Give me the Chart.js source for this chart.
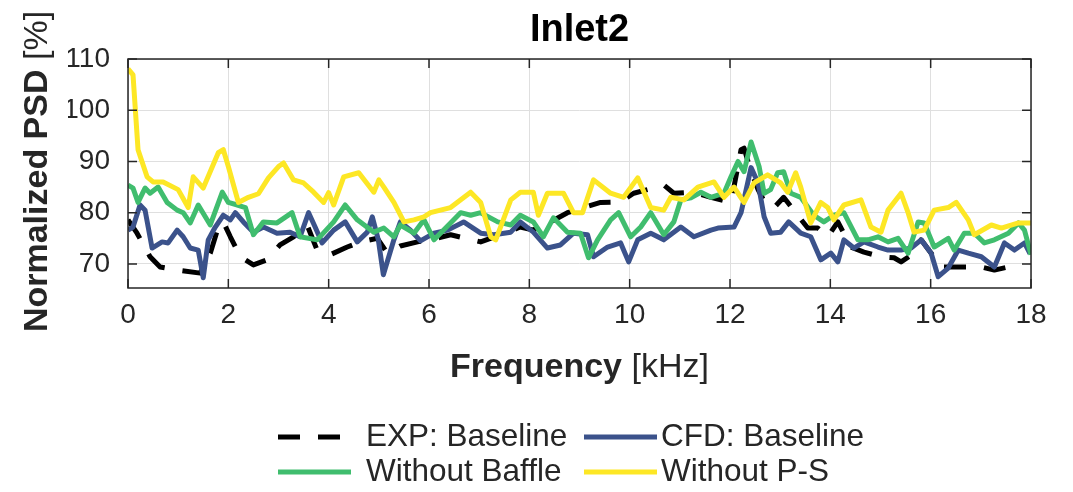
<!DOCTYPE html>
<html>
<head>
<meta charset="utf-8">
<script src="https://cdn.jsdelivr.net/npm/chart.js@4.4.1/dist/chart.umd.min.js"></script>
<style>
  html, body { margin: 0; padding: 0; background: #fff; }
  #psd-chart { display: block; }
</style>
</head>
<body>
<canvas id="psd-chart" width="1073" height="492"></canvas>
<script>
// values (frequency in kHz, normalized PSD in %)
const expFreq = [0, 0.18, 0.44, 0.64, 0.98, 1.44, 1.64, 1.8, 1.9, 2.04, 2.24, 2.5, 2.77, 3.03, 3.3, 3.57, 3.77, 4.03, 4.37, 4.63, 4.97, 5.17, 5.43, 5.77, 6.03, 6.43, 7.03, 7.43, 7.82, 8.08, 8.42, 8.76, 9.08, 9.42, 9.82, 10.08, 10.36, 10.68, 10.88, 11.28, 11.62, 12.02, 12.22, 12.28, 12.42, 12.56, 12.72, 12.88, 13.07, 13.35, 13.55, 13.75, 13.95, 14.15, 14.41, 14.67, 15.01, 15.27, 15.41, 15.67, 15.81, 16.01, 16.21, 16.47, 16.75, 17.01, 17.27, 17.55, 17.75];
const expPsd = [78.6, 76, 71.4, 69.4, 68.8, 68.2, 72.1, 77.2, 78.2, 75.3, 71.4, 69.8, 70.8, 73.7, 75.3, 77.6, 72.7, 71.8, 73.3, 74.3, 75, 72.1, 73.5, 74.3, 74.7, 75.7, 74.3, 75.7, 77.2, 76.6, 78.2, 80, 81, 82, 82.1, 83.8, 84.5, 85.4, 83.8, 84, 83, 82, 92.3, 92.6, 88, 84.5, 81.5, 81, 83, 79.5, 77, 77, 75.3, 78.2, 73.3, 72.3, 71.4, 71.2, 70.4, 72.1, 74.7, 72.1, 69.4, 69.4, 69.4, 69.4, 68.8, 69.4, 68.8];

const cfdFreq = [0, 0.1, 0.24, 0.34, 0.48, 0.68, 0.8, 0.98, 1.1, 1.24, 1.4, 1.5, 1.6, 1.74, 1.9, 2.04, 2.14, 2.3, 2.5, 2.7, 2.97, 3.23, 3.43, 3.6, 3.73, 3.87, 4.1, 4.33, 4.57, 4.77, 4.87, 4.99, 5.09, 5.3, 5.43, 5.63, 5.83, 6.1, 6.37, 6.69, 7.03, 7.29, 7.63, 7.82, 8.08, 8.36, 8.62, 8.88, 9.16, 9.28, 9.56, 9.82, 9.98, 10.16, 10.42, 10.68, 11.02, 11.28, 11.62, 11.76, 12.08, 12.22, 12.42, 12.56, 12.68, 12.81, 13.01, 13.17, 13.41, 13.61, 13.81, 14.01, 14.15, 14.27, 14.47, 14.67, 14.95, 15.15, 15.41, 15.61, 15.81, 16.01, 16.15, 16.35, 16.55, 16.75, 17.01, 17.27, 17.47, 17.67, 17.87, 17.98];
const cfdPsd = [76.6, 77.2, 81.5, 80.5, 73.1, 74.3, 74.1, 76.6, 75.3, 73.1, 72.7, 67.3, 74.7, 77.2, 79.5, 78.6, 80, 78.2, 76.2, 77.2, 76, 76.2, 75.3, 80, 77.2, 74.1, 76.6, 78.2, 74.3, 76.2, 79.2, 74.7, 67.9, 74.7, 78.2, 76.6, 74.5, 76, 76.6, 78.2, 76, 75.7, 76.2, 78.2, 76.2, 73.1, 73.7, 76, 75.7, 71.4, 73.3, 74.1, 70.4, 74.7, 76, 74.7, 77.2, 75.3, 76.6, 77, 77.2, 80, 88.8, 85.8, 79.2, 76, 76.2, 78.2, 76, 75.3, 70.8, 72.1, 70.4, 74.7, 73.1, 74.3, 73.3, 72.7, 72.7, 73.1, 74.7, 72.1, 67.5, 69.2, 72.7, 72.1, 71.4, 69.4, 74.1, 72.7, 74.1, 72];

const baffleFreq = [0, 0.1, 0.2, 0.34, 0.44, 0.6, 0.78, 0.98, 1.1, 1.24, 1.4, 1.64, 1.88, 2.0, 2.18, 2.34, 2.5, 2.7, 2.97, 3.27, 3.43, 3.77, 4.1, 4.33, 4.57, 4.9, 5.1, 5.3, 5.43, 5.7, 5.9, 6.1, 6.43, 6.63, 6.83, 7.03, 7.37, 7.63, 7.82, 8.08, 8.28, 8.48, 8.76, 9.02, 9.18, 9.36, 9.62, 9.78, 10.02, 10.22, 10.42, 10.68, 10.88, 11.02, 11.22, 11.42, 11.62, 11.88, 12.02, 12.16, 12.28, 12.42, 12.58, 12.68, 12.81, 12.95, 13.07, 13.21, 13.41, 13.67, 13.87, 14.07, 14.27, 14.55, 14.75, 14.95, 15.15, 15.35, 15.55, 15.75, 15.87, 16.07, 16.35, 16.47, 16.67, 16.87, 17.07, 17.27, 17.55, 17.75, 17.87, 18];
const bafflePsd = [85.4, 84.8, 82, 84.8, 83.8, 85, 82, 80.5, 80, 78, 81.5, 77.6, 84, 82, 81.5, 81, 75.7, 78.2, 78, 80, 75.3, 74.7, 78.2, 81.5, 78.6, 76.2, 77, 75.3, 77.6, 76, 78.6, 74.7, 78, 80, 79.5, 80, 78.2, 77.6, 79.5, 78.2, 75.3, 79, 76.2, 76, 71.2, 74.7, 78.6, 80, 75.3, 77.2, 80, 75.7, 78.2, 82.5, 82.9, 84, 83, 83.8, 87, 90, 88, 93.8, 89, 83.8, 84.5, 87.8, 88, 83.8, 83, 79.5, 78.2, 79.5, 80, 74.7, 74.7, 75.3, 74.3, 75, 72.1, 78.2, 78, 73.3, 75, 72.7, 76, 76, 74.1, 74.7, 76, 78, 76.6, 71.8];

const psFreq = [0, 0.1, 0.2, 0.38, 0.5, 0.7, 1.0, 1.2, 1.3, 1.5, 1.8, 1.9, 2.0, 2.2, 2.4, 2.6, 2.8, 3.0, 3.1, 3.3, 3.5, 3.7, 3.9, 4.0, 4.1, 4.3, 4.6, 4.9, 5.0, 5.1, 5.3, 5.5, 5.7, 5.9, 6.03, 6.43, 6.83, 7.03, 7.23, 7.33, 7.63, 7.82, 8.08, 8.18, 8.36, 8.68, 8.88, 9.06, 9.28, 9.62, 9.88, 10.16, 10.42, 10.68, 10.82, 11.08, 11.36, 11.68, 11.88, 12.08, 12.28, 12.48, 12.75, 13.01, 13.15, 13.31, 13.41, 13.61, 13.81, 13.95, 14.07, 14.27, 14.61, 14.81, 15.01, 15.15, 15.41, 15.55, 15.67, 15.87, 16.07, 16.35, 16.51, 16.75, 16.87, 17.21, 17.41, 17.75, 18];
const psPsd = [108.1, 106.9, 92.3, 87, 86, 86, 84.5, 81, 87, 84.8, 91.7, 92.3, 89, 82, 83, 83.7, 86.8, 89, 89.7, 86.4, 85.8, 84, 82, 83.9, 81.5, 87, 87.8, 84, 86.4, 85, 82, 78.2, 78.6, 79.2, 80, 81, 84, 82, 75.3, 74.7, 82.5, 84, 84, 79.5, 83.8, 83.8, 80, 80, 86.4, 83.8, 83, 86.8, 81, 80.5, 83, 82.5, 85, 86, 83, 85, 82, 85.8, 87.4, 85.8, 84, 87.8, 85, 78, 82, 81, 78.6, 81.5, 82.5, 77.2, 76.2, 80.5, 83.8, 80, 76.2, 76.6, 80.5, 81, 82, 78.6, 75.7, 77.6, 77, 78, 78];

const seriesLabels = ['EXP: Baseline', 'CFD: Baseline', 'Without Baffle', 'Without P-S'];
const xTicks = [0, 2, 4, 6, 8, 10, 12, 14, 16, 18];
const yTicks = [70, 80, 90, 100, 110];

const FONT = "'Liberation Sans', Arial, Helvetica, sans-serif";
const INK = '#262626';
const LINE_W = 5;

function toPoints(xs, ys) {
    return xs.map((x, i) => ({ x: x, y: ys[i] }));
}

// box, inner tick marks, title, axis titles and legend, matlab style
const matlabLook = {
    id: 'matlabLook',
    afterDatasetsDraw(chart) {
        const ctx = chart.ctx;
        const a = chart.chartArea;
        const xs = chart.scales.x, ys = chart.scales.y;
        ctx.save();
        ctx.strokeStyle = INK;
        ctx.lineWidth = 1.5;
        ctx.strokeRect(a.left, a.top, a.right - a.left, a.bottom - a.top);
        ctx.beginPath();
        xTicks.forEach(v => {
            const px = xs.getPixelForValue(v);
            ctx.moveTo(px, a.bottom); ctx.lineTo(px, a.bottom - 9);
            ctx.moveTo(px, a.top); ctx.lineTo(px, a.top + 9);
        });
        yTicks.forEach(v => {
            const py = ys.getPixelForValue(v);
            ctx.moveTo(a.left, py); ctx.lineTo(a.left + 9, py);
            ctx.moveTo(a.right, py); ctx.lineTo(a.right - 9, py);
        });
        ctx.stroke();
        ctx.restore();
    },
    afterDraw(chart) {
        const ctx = chart.ctx;
        const a = chart.chartArea;
        const cx = (a.left + a.right) / 2;
        const cy = (a.top + a.bottom) / 2;
        ctx.save();
        ctx.fillStyle = '#000';
        ctx.textBaseline = 'middle';

        // title
        ctx.font = 'bold 38px ' + FONT;
        ctx.textAlign = 'center';
        ctx.fillText('Inlet2', cx, 31);

        // axis titles: bold name + plain unit
        function mixed(boldText, plainText, x, y) {
            ctx.font = 'bold 34px ' + FONT;
            const w1 = ctx.measureText(boldText).width;
            ctx.font = '34px ' + FONT;
            const w2 = ctx.measureText(plainText).width;
            const x0 = x - (w1 + w2) / 2;
            ctx.textAlign = 'left';
            ctx.fillStyle = INK;
            ctx.font = 'bold 34px ' + FONT;
            ctx.fillText(boldText, x0, y);
            ctx.font = '34px ' + FONT;
            ctx.fillText(plainText, x0 + w1, y);
        }
        mixed('Frequency ', '[kHz]', cx, 368);
        ctx.save();
        ctx.translate(38, cy - 2);
        ctx.rotate(-Math.PI / 2);
        mixed('Normalized PSD ', '[%]', 0, 0);
        ctx.restore();

        // legend, two columns
        const sampleX = [278, 584];
        const textX = [366, 661];
        const rowY = [437, 472];
        ctx.font = '31.5px ' + FONT;
        ctx.textAlign = 'left';
        chart.data.datasets.forEach((ds, i) => {
            const col = i % 2;
            const y = rowY[Math.floor(i / 2)];
            ctx.beginPath();
            ctx.strokeStyle = ds.borderColor;
            ctx.lineWidth = ds.borderWidth;
            ctx.setLineDash(ds.borderDash || []);
            ctx.moveTo(sampleX[col], y);
            ctx.lineTo(sampleX[col] + 73, y);
            ctx.stroke();
            ctx.setLineDash([]);
            ctx.fillStyle = INK;
            ctx.fillText(ds.label, textX[col], y);
        });
        ctx.restore();
    }
};

const data = {
    datasets: [
        {
            label: seriesLabels[0],
            data: toPoints(expFreq, expPsd),
            borderColor: '#000000',
            borderWidth: LINE_W,
            borderDash: [22, 18],
            order: 3
        },
        {
            label: seriesLabels[1],
            data: toPoints(cfdFreq, cfdPsd),
            borderColor: '#3b528b',
            borderWidth: LINE_W,
            order: 2
        },
        {
            label: seriesLabels[2],
            data: toPoints(baffleFreq, bafflePsd),
            borderColor: '#40bd6e',
            borderWidth: LINE_W,
            order: 1
        },
        {
            label: seriesLabels[3],
            data: toPoints(psFreq, psPsd),
            borderColor: '#fde725',
            borderWidth: LINE_W,
            order: 0
        }
    ]
};

const config = {
    type: 'line',
    data: data,
    plugins: [matlabLook],
    options: {
        responsive: false,
        animation: false,
        devicePixelRatio: 1,
        layout: {
            padding: { left: 68, top: 59, right: 42, bottom: 164 }
        },
        elements: {
            line: { tension: 0, fill: false, borderCapStyle: 'butt', borderJoinStyle: 'round' },
            point: { radius: 0 }
        },
        scales: {
            x: {
                type: 'linear',
                min: 0,
                max: 18,
                afterBuildTicks: s => { s.ticks = xTicks.map(v => ({ value: v })); },
                afterFit: s => { s.height = 40; },
                grid: { color: '#dfdfdf', lineWidth: 1, drawTicks: false },
                border: { display: false },
                ticks: {
                    color: INK,
                    padding: 10,
                    maxRotation: 0,
                    font: { family: FONT, size: 28 }
                }
            },
            y: {
                type: 'linear',
                min: 65.3,
                max: 110,
                afterBuildTicks: s => { s.ticks = yTicks.map(v => ({ value: v })); },
                afterFit: s => { s.width = 60; },
                grid: { color: '#dfdfdf', lineWidth: 1, drawTicks: false },
                border: { display: false },
                ticks: {
                    color: INK,
                    padding: 18,
                    font: { family: FONT, size: 28 }
                }
            }
        },
        plugins: {
            legend: { display: false },
            title: { display: false },
            tooltip: { enabled: false }
        }
    }
};

var context = document.getElementById('psd-chart').getContext('2d');
new Chart(context, config);
</script>
</body>
</html>
